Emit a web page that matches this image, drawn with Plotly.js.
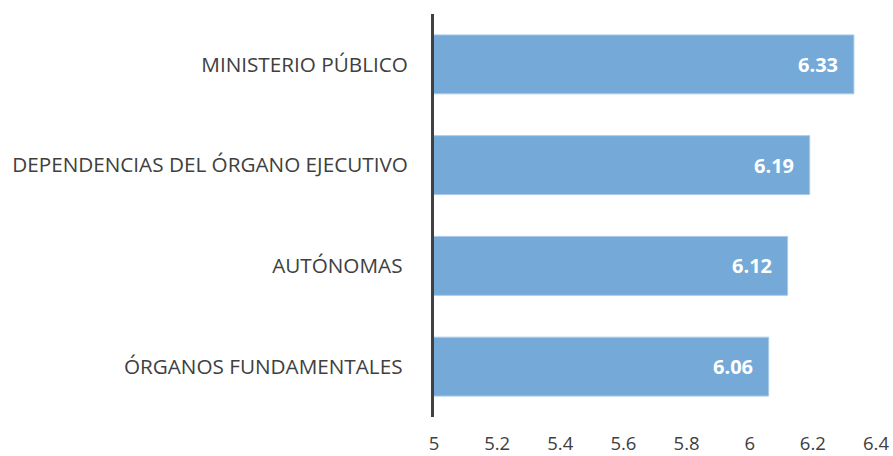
<!DOCTYPE html>
<html><head><meta charset="utf-8">
<script src="https://cdn.plot.ly/plotly-3.0.1.min.js"></script>
<style>html,body{margin:0;padding:0;background:#fff}</style>
</head><body><div id="c" style="width:893px;height:456px"></div>
<script>
const categories = ["MINISTERIO PÚBLICO", "DEPENDENCIAS DEL ÓRGANO EJECUTIVO", "AUTÓNOMAS ", "ÓRGANOS FUNDAMENTALES "];
const values = [6.33, 6.19, 6.12, 6.06];
const xTicks = [5, 5.2, 5.4, 5.6, 5.8, 6, 6.2, 6.4];
const font = "Open Sans, Calibri, sans-serif";
const trace = {
  type: "bar", orientation: "h", y: categories, x: values,
  marker: {color: "#74A9D8", line: {color: "#A9CBEA", width: 1}},
  hoverinfo: "none"
};
const annotations = categories.map((c, i) => ({
  x: values[i], y: c, xref: "x", yref: "y", text: values[i].toFixed(2),
  showarrow: false, xanchor: "right", xshift: -14,
  font: {family: font, size: 20, color: "#ffffff", weight: "bold"}
}));
Plotly.newPlot("c", [trace], {
  width: 893, height: 456,
  margin: {l: 434, r: 17, t: 14, b: 39},
  paper_bgcolor: "#fff", plot_bgcolor: "#fff",
  bargap: 0.415,
  showlegend: false,
  font: {family: font, size: 20, color: "#404040"},
  xaxis: {range: [5, 6.4], tickvals: xTicks, ticktext: xTicks.map(String),
    showgrid: false, zeroline: false, showline: false,
    ticks: "outside", ticklen: 10, tickcolor: "rgba(0,0,0,0)",
    tickfont: {family: font, size: 18.5, color: "#404040"}},
  yaxis: {autorange: "reversed", showgrid: false, zeroline: false,
    showline: true, linecolor: "#404040", linewidth: 3,
    ticks: "outside", ticklen: 19, tickcolor: "rgba(0,0,0,0)",
    tickfont: {family: font, size: 20.7, color: "#404040"}},
  annotations: annotations
}, {staticPlot: true});
</script></body></html>
